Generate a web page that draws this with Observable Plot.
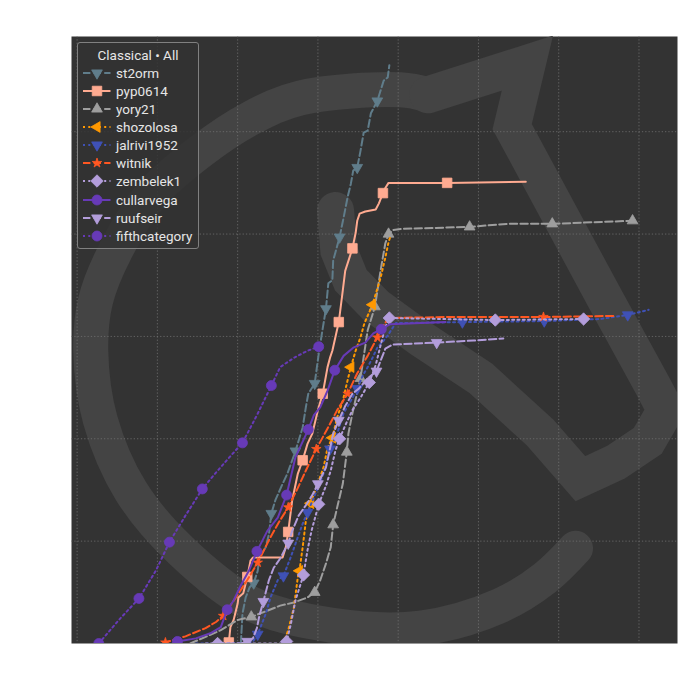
<!DOCTYPE html>
<html><head><meta charset="utf-8">
<script src="https://cdn.jsdelivr.net/npm/d3@7"></script>
<script src="https://cdn.jsdelivr.net/npm/@observablehq/plot@0.6"></script>
<style>
body{margin:0;background:#fff;font-family:Roboto,"DejaVu Sans",sans-serif}
#wrap{position:relative;width:700px;height:700px}
#legend{position:absolute;left:77px;top:42px;width:122px;height:207px;border:1px solid #808080;border-radius:3px;background:rgba(51,51,51,0.85);box-sizing:border-box;color:#e6e6e6}
#legend .title{position:absolute;left:0;right:0;top:3px;text-align:center;font-size:13.5px;line-height:18px}
#legend .row{position:absolute;left:4px;height:18px;display:flex;align-items:center;font-size:13.5px}
#legend .row svg{margin-right:5px}
</style></head><body><div id="wrap"></div>
<script>
// ---- chart data: [x, y, hasMarker] ----
const legendTitle = "Classical • All";
const names = ["st2orm","pyp0614","yory21","shozolosa","jalrivi1952","witnik","zembelek1","cullarvega","ruufseir","fifthcategory"];
const colors = ["#607d8b","#ffab91","#9e9e9e","#ff9800","#3f51b5","#ff5722","#b39ddb","#673ab7","#b39ddb","#673ab7"];
const dashes = ["7.4,3.2","none","7.4,3.2","2,3.3","2,3.3","7.4,3.2","2,3.3","none","7.4,3.2","2,3.3"];
const symbols = ["triangle","square","triangle","triangle","triangle","star","diamond2","circle","triangle","circle"];
const rotations = [180,0,0,-90,180,0,0,0,180,0];
const markerR = [4,5.4,4,4,4,3,5.6,5,4,5];

const st2orm = [[2.04,0,0],[2.06,0.29,0],[2.10,0.45,0],[2.15,0.55,0],[2.20,0.59,1],[2.25,0.71,0],[2.27,0.84,0],[2.35,0.94,0],[2.39,1.07,0],[2.42,1.27,1],[2.47,1.40,0],[2.56,1.56,0],[2.62,1.66,0],[2.68,1.79,0],[2.72,1.88,1],[2.81,2.11,0],[2.85,2.31,0],[2.88,2.44,0],[2.96,2.54,1],[3.01,2.83,0],[3.05,3.03,0],[3.10,3.27,1],[3.13,3.52,0],[3.18,3.55,0],[3.19,3.74,0],[3.27,3.97,1],[3.32,4.16,0],[3.37,4.36,0],[3.41,4.49,0],[3.44,4.62,0],[3.49,4.65,1],[3.53,4.81,0],[3.57,4.99,0],[3.62,5.01,0],[3.66,5.18,0],[3.74,5.30,1],[3.82,5.50,0],[3.87,5.53,0],[3.89,5.65,0]];
const pyp0614 = [[1.85,0,0],[1.89,0.01,1],[1.91,0.16,0],[1.95,0.23,0],[2.00,0.39,0],[2.01,0.45,0],[2.07,0.49,0],[2.12,0.65,1],[2.16,0.81,0],[2.19,0.84,0],[2.56,0.84,0],[2.60,0.94,0],[2.63,1.09,1],[2.68,1.40,0],[2.75,1.66,0],[2.81,1.79,1],[2.87,1.95,0],[2.93,2.05,0],[3.00,2.28,0],[3.06,2.44,1],[3.12,2.70,0],[3.15,2.79,0],[3.18,2.86,0],[3.26,3.14,1],[3.31,3.45,0],[3.34,3.64,0],[3.43,3.86,1],[3.47,4.01,0],[3.49,4.13,0],[3.52,4.20,0],[3.59,4.22,0],[3.72,4.24,0],[3.76,4.30,0],[3.81,4.40,1],[3.84,4.45,0],[3.88,4.50,0],[4.61,4.50,1],[5.59,4.51,0]];
const yory21 = [[1.41,0,0],[1.79,0.13,0],[2.00,0.23,0],[2.17,0.26,1],[2.37,0.32,0],[2.53,0.37,0],[2.70,0.40,0],[2.87,0.45,0],[2.96,0.50,1],[3.03,0.62,0],[3.10,0.78,0],[3.16,0.94,0],[3.19,1.16,1],[3.24,1.33,0],[3.31,1.56,0],[3.36,1.87,1],[3.38,2.05,0],[3.43,2.25,0],[3.53,2.59,1],[3.62,3.06,0],[3.71,3.29,1],[3.78,3.64,0],[3.84,3.91,0],[3.88,4.00,1],[3.94,4.04,0],[4.03,4.05,0],[4.89,4.07,1],[5.36,4.10,0],[5.92,4.10,1],[6.92,4.13,1]];
const shozolosa = [[2.57,0,0],[2.63,0.13,0],[2.70,0.35,0],[2.75,0.65,0],[2.77,0.71,1],[2.81,0.94,0],[2.85,1.20,0],[2.91,1.37,1],[3.07,1.72,0],[3.12,1.91,0],[3.18,2.01,1],[3.24,2.21,0],[3.31,2.37,0],[3.36,2.54,0],[3.41,2.70,1],[3.47,2.86,0],[3.53,2.99,0],[3.58,3.13,0],[3.68,3.31,1],[3.78,3.57,0],[3.84,3.77,0],[3.88,3.92,0],[3.90,3.97,0]];
const jalrivi1952 = [[1.48,0,0],[2.10,0,0],[2.19,0.02,0],[2.25,0.09,1],[2.35,0.29,0],[2.41,0.45,0],[2.50,0.62,0],[2.57,0.66,1],[2.66,0.84,0],[2.75,1.04,0],[2.81,1.17,0],[2.87,1.28,1],[3.00,1.52,0],[3.07,1.66,0],[3.15,1.90,1],[3.24,2.05,0],[3.32,2.25,0],[3.41,2.37,0],[3.49,2.49,1],[3.56,2.62,0],[3.62,2.70,0],[3.68,2.79,0],[3.74,2.89,0],[3.82,2.96,0],[3.87,3.01,0],[3.97,3.13,0],[4.80,3.14,1],[5.82,3.15,1],[6.52,3.17,0],[6.86,3.21,1],[7.12,3.26,0]];
const witnik = [[1.07,0,0],[1.10,0.01,1],[1.35,0.07,0],[1.60,0.15,0],[1.73,0.21,0],[1.82,0.27,1],[1.97,0.44,0],[2.12,0.62,0],[2.25,0.79,1],[2.39,1.01,0],[2.51,1.18,0],[2.63,1.33,1],[2.75,1.52,0],[2.85,1.69,0],[2.98,1.90,1],[3.12,2.10,0],[3.24,2.28,0],[3.37,2.44,1],[3.49,2.64,0],[3.62,2.81,0],[3.74,2.99,1],[3.82,3.11,0],[3.88,3.18,0],[4.65,3.19,0],[5.81,3.19,1],[6.68,3.20,0]];
const zembelek1 = [[1.60,0,0],[1.75,0,1],[2.57,0,0],[2.61,0.02,1],[2.66,0.18,0],[2.72,0.42,0],[2.78,0.57,0],[2.82,0.67,1],[2.87,0.91,0],[2.92,1.10,0],[3.01,1.36,1],[3.10,1.54,0],[3.16,1.69,0],[3.22,1.89,0],[3.27,2.00,1],[3.34,2.13,0],[3.43,2.28,0],[3.53,2.40,0],[3.64,2.55,1],[3.72,2.72,0],[3.78,2.91,0],[3.84,3.09,0],[3.89,3.18,1],[5.21,3.16,1],[6.31,3.17,1],[6.40,3.17,0]];
const cullarvega = [[1.19,0,0],[1.25,0.02,1],[1.48,0.05,0],[1.66,0.10,0],[1.79,0.16,0],[1.87,0.33,1],[1.95,0.42,0],[2.04,0.57,0],[2.14,0.71,0],[2.24,0.90,1],[2.37,1.10,0],[2.50,1.23,0],[2.61,1.45,1],[2.72,1.82,0],[2.88,2.09,1],[2.95,2.23,0],[3.03,2.31,0],[3.12,2.47,0],[3.21,2.67,1],[3.32,2.81,0],[3.44,2.89,0],[3.59,2.94,0],[3.69,3.03,0],[3.79,3.07,1],[3.90,3.12,0],[4.59,3.14,0]];
const ruufseir = [[1.73,0,0],[2.04,0,0],[2.12,0.02,1],[2.19,0.05,0],[2.24,0.15,0],[2.27,0.27,0],[2.32,0.41,1],[2.39,0.62,0],[2.45,0.74,0],[2.53,0.83,0],[2.63,0.98,1],[2.68,1.10,0],[2.76,1.25,0],[2.85,1.35,0],[2.93,1.45,0],[3.00,1.56,1],[3.10,1.72,0],[3.19,2.05,0],[3.26,2.18,1],[3.34,2.32,0],[3.43,2.44,0],[3.51,2.49,0],[3.62,2.59,0],[3.73,2.66,1],[3.78,2.76,0],[3.84,2.88,0],[3.93,2.92,0],[4.48,2.94,1],[4.94,2.96,0],[5.31,2.98,0]];
const fifthcategory = [[0.27,0,1],[0.52,0.23,0],[0.77,0.44,1],[0.98,0.71,0],[1.15,0.99,1],[1.35,1.25,0],[1.56,1.51,1],[1.73,1.67,0],[1.91,1.83,0],[2.06,1.96,1],[2.24,2.23,0],[2.42,2.52,1],[2.53,2.70,0],[2.70,2.79,0],[2.87,2.86,0],[3.01,2.90,1]];

// watermark (logo) outline, same data units
const logoArc = [[6.21,0.93],[5.83,0.64],[5.27,0.37],[4.28,0.15],[3.16,0.18],[2.16,0.39],[1.29,0.91],[0.67,1.49],[0.29,2.18],[0.17,2.86],[0.23,3.35],[0.48,3.84],[0.92,4.38],[1.54,4.81],[2.16,5.13],[2.78,5.33],[4.03,5.41],[4.37,5.36]];
const logoHead = [[4.37,5.36],[5.61,5.67],[5.42,5.05],[6.59,3.35],[7.17,2.52],[7.33,2.28],[7.11,1.98],[6.71,1.77],[6.27,1.61],[5.77,2.06],[5.03,2.59],[4.28,2.98],[3.72,3.30],[3.41,3.55],[3.26,3.84],[3.22,4.23]];

const xTicks = [0,1,2,3,4,5,6,7];
const yTicks = [1,2,3,4,5];

const seriesData = [st2orm,pyp0614,yory21,shozolosa,jalrivi1952,witnik,zembelek1,cullarvega,ruufseir,fifthcategory];

const marks = [
  Plot.frame({fill:"#333333", stroke:null}),
  Plot.line(logoArc, {x:d=>d[0], y:d=>d[1], stroke:"#444444", strokeWidth:35, curve:"catmull-rom", strokeLinecap:"round", strokeLinejoin:"round", clip:true}),
  Plot.line(logoHead, {x:d=>d[0], y:d=>d[1], stroke:"#444444", strokeWidth:37, curve:"linear", strokeLinecap:"round", strokeLinejoin:"miter", strokeMiterlimit:3, clip:true}),
  Plot.gridX(xTicks, {stroke:"#777", strokeOpacity:0.8, strokeWidth:0.9, strokeDasharray:"1.3,2"}),
  Plot.gridY(yTicks, {stroke:"#777", strokeOpacity:0.8, strokeWidth:0.9, strokeDasharray:"1.3,2"})
];
seriesData.forEach((data,i)=>{
  marks.push(Plot.line(data, {x:d=>d[0], y:d=>d[1], stroke:colors[i], strokeWidth:2, strokeDasharray:dashes[i], strokeLinejoin:"round", clip:true}));
  marks.push(Plot.dot(data.filter(d=>d[2]===1), {x:d=>d[0], y:d=>d[1], symbol:symbols[i], r:markerR[i], fill:colors[i], stroke:colors[i], strokeWidth:0.8, rotate:rotations[i], clip:true}));
});

const chart = Plot.plot({
  width:700, height:700,
  marginLeft:71, marginRight:23, marginTop:36, marginBottom:57,
  x:{domain:[-0.07,7.48], axis:null},
  y:{domain:[0,5.93], axis:null},
  style:{background:"#fff"},
  marks
});
const wrap = document.getElementById("wrap");
wrap.appendChild(chart);

// legend overlay
const leg = document.createElement("div");
leg.id = "legend";
const t = document.createElement("div");
t.className = "title"; t.textContent = legendTitle;
leg.appendChild(t);
const symMap = {triangle:d3.symbolTriangle, square:d3.symbolSquare, star:d3.symbolStar, diamond2:d3.symbolDiamond2, circle:d3.symbolCircle};
names.forEach((n,i)=>{
  const row = document.createElement("div");
  row.className = "row";
  row.style.top = (21 + 18.08*i) + "px";
  const s = d3.create("svg").attr("width",29).attr("height",18);
  s.append("line").attr("x1",1).attr("x2",28.5).attr("y1",9).attr("y2",9)
    .attr("stroke",colors[i]).attr("stroke-width",2).attr("stroke-dasharray",dashes[i]==="none"?null:dashes[i]);
  s.append("path").attr("d", d3.symbol(symMap[symbols[i]], Math.PI*markerR[i]*markerR[i])())
    .attr("transform",`translate(15,9) rotate(${rotations[i]})`).attr("fill",colors[i]).attr("stroke",colors[i]).attr("stroke-width",0.8);
  row.appendChild(s.node());
  const lab = document.createElement("span"); lab.textContent = n;
  row.appendChild(lab);
  leg.appendChild(row);
});
wrap.appendChild(leg);
</script></body></html>
